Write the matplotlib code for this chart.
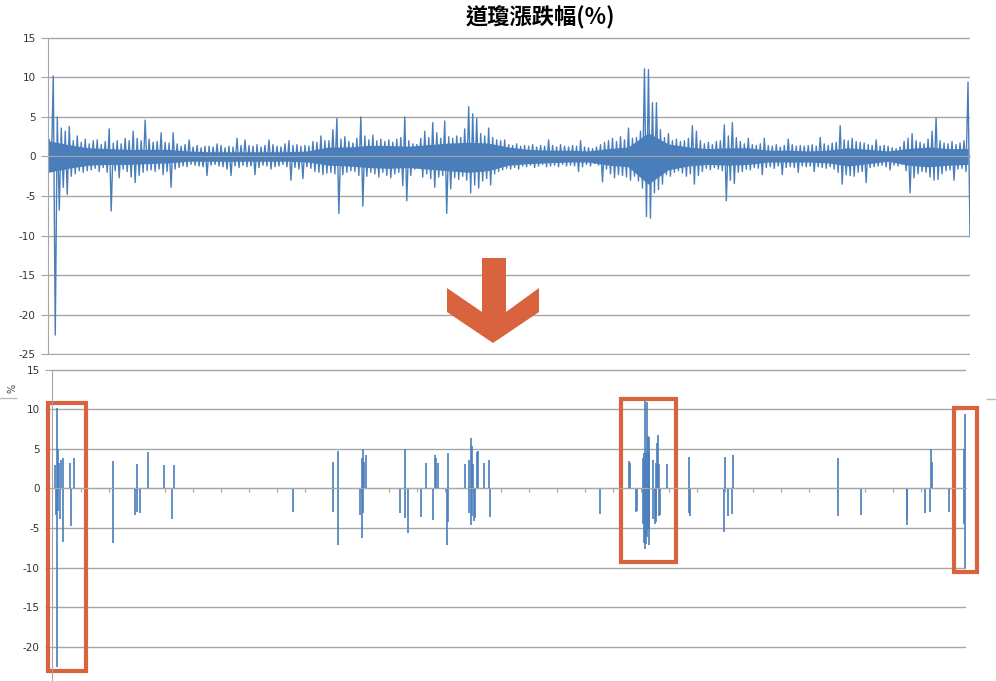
import numpy as np
import matplotlib.pyplot as plt
from matplotlib.patches import Polygon, Rectangle
from matplotlib.lines import Line2D

plt.rcParams['axes.unicode_minus'] = False

title = '道瓊漲跌幅(%)'
y_ticks = [15, 10, 5, 0, -5, -10, -15, -20, -25]
start, end = 1987.62, 2020.20   # first and last trading day (decimal year)

# daily % change, read as high / low per small slice of time (top chart)
day_hi = [
    2.1, 10.2, 5.0, 3.6, 3.2, 3.8, 2.0, 2.6, 1.8, 2.2,
    1.6, 2.0, 2.1, 1.5, 1.9, 3.5, 1.7, 2.0, 1.6, 2.3,
    2.0, 3.2, 2.3, 2.0, 4.6, 2.2, 1.8, 1.9, 3.0, 1.8,
    1.7, 3.0, 1.6, 1.3, 1.5, 2.1, 1.2, 1.4, 1.1, 1.3,
    1.3, 1.2, 1.6, 1.4, 1.1, 1.3, 1.2, 2.3, 1.4, 2.1,
    1.4, 1.3, 1.5, 1.2, 1.4, 2.1, 1.5, 1.3, 1.2, 1.6,
    2.0, 1.4, 1.5, 1.3, 1.4, 1.3, 1.9, 1.8, 2.6, 2.0,
    2.0, 3.4, 4.8, 2.2, 2.5, 1.9, 1.7, 2.3, 5.0, 2.6,
    2.1, 2.7, 2.0, 2.2, 1.9, 2.1, 1.8, 2.2, 2.4, 5.0,
    2.0, 1.6, 1.5, 2.3, 3.2, 2.4, 4.3, 3.0, 2.3, 4.5,
    2.5, 2.3, 2.6, 2.4, 3.5, 6.3, 5.4, 4.8, 2.9, 2.6,
    3.6, 2.4, 2.1, 2.0, 2.1, 1.5, 1.4, 1.6, 1.3, 1.4,
    1.3, 1.5, 1.2, 1.4, 1.3, 2.1, 1.4, 1.2, 1.5, 1.3,
    1.2, 1.4, 1.3, 2.0, 1.2, 1.1, 1.0, 1.2, 1.5, 1.8,
    2.0, 2.3, 1.9, 2.5, 2.1, 3.6, 2.3, 2.4, 3.2, 11.1,
    11.0, 6.8, 6.8, 3.4, 2.4, 2.9, 2.0, 2.2, 1.9, 2.0,
    2.3, 3.9, 3.2, 2.0, 1.6, 1.8, 1.5, 1.9, 2.0, 4.0,
    2.6, 4.3, 2.4, 1.9, 1.6, 2.3, 1.5, 1.4, 1.6, 2.3,
    1.4, 1.3, 1.5, 1.2, 1.4, 2.2, 1.5, 1.3, 1.4, 1.3,
    1.4, 1.5, 1.3, 2.4, 1.6, 1.4, 1.7, 1.8, 3.9, 2.1,
    2.0, 2.3, 1.9, 1.8, 1.7, 1.5, 1.4, 2.1, 1.3, 1.4,
    1.3, 1.1, 1.0, 1.2, 1.9, 2.3, 2.9, 2.0, 1.8, 1.6,
    2.2, 3.2, 4.9, 2.0, 1.7, 1.6, 1.9, 1.5, 1.7, 2.0,
    9.4]
day_lo = [
    -1.9, -22.6, -6.8, -3.9, -4.8, -2.5, -2.2, -1.8, -2.0, -1.8,
    -1.7, -1.5, -1.9, -1.4, -2.0, -6.9, -1.8, -2.7, -1.6, -1.9,
    -2.6, -3.3, -2.4, -2.0, -1.8, -1.7, -1.9, -1.6, -2.3, -1.9,
    -3.9, -1.6, -1.4, -1.2, -1.3, -1.0, -1.1, -1.2, -1.3, -2.4,
    -1.1, -1.0, -1.2, -1.3, -1.6, -2.4, -1.2, -1.4, -1.1, -1.3,
    -1.2, -2.3, -1.4, -1.1, -1.2, -1.6, -1.3, -1.2, -1.0, -1.3,
    -3.0, -1.4, -1.6, -2.8, -1.3, -1.5, -1.9, -2.0, -2.3, -2.1,
    -2.0, -2.2, -7.2, -2.3, -2.0, -1.8, -1.9, -2.4, -6.3, -2.5,
    -2.0, -2.2, -2.6, -2.0, -2.4, -2.7, -2.2, -2.0, -3.7, -5.6,
    -2.4, -1.6, -1.3, -2.6, -2.2, -2.8, -3.9, -2.6, -2.4, -7.2,
    -4.1, -2.7, -2.9, -2.5, -3.0, -4.6, -3.6, -4.0, -3.1, -2.8,
    -3.6, -2.2, -1.9, -1.7, -1.5, -1.6, -1.4, -1.6, -1.2, -1.3,
    -1.1, -1.4, -1.2, -1.0, -1.3, -1.2, -1.1, -1.3, -1.0, -1.2,
    -1.1, -1.2, -1.9, -1.3, -1.0, -1.2, -0.9, -1.1, -3.2, -1.6,
    -2.2, -2.7, -2.3, -2.4, -2.6, -3.0, -2.5, -3.1, -4.0, -7.6,
    -7.8, -4.6, -4.2, -3.5, -2.3, -2.5, -2.0, -1.8, -2.1, -2.5,
    -2.2, -3.5, -2.4, -1.9, -1.5, -1.7, -1.4, -1.6, -1.8, -5.6,
    -3.0, -3.4, -2.0, -1.9, -1.6, -1.7, -1.4, -1.5, -2.3, -1.4,
    -1.3, -1.5, -1.2, -2.3, -1.4, -1.3, -1.4, -2.0, -1.2, -1.3,
    -1.2, -1.9, -1.3, -1.4, -1.5, -1.3, -1.6, -2.0, -3.5, -2.3,
    -2.4, -2.5, -2.0, -1.9, -3.3, -1.4, -1.3, -1.2, -1.1, -1.3,
    -1.7, -1.1, -1.2, -1.0, -1.8, -4.6, -2.7, -2.2, -1.9, -2.0,
    -2.6, -3.0, -2.9, -2.2, -1.8, -1.7, -3.0, -1.6, -1.5, -1.9,
    -10.0]

# the dense, solid part of the band (coarser steps)
core_hi = [2.0, 1.5, 1.1, 1.0, 0.9, 0.9, 0.9, 0.7, 0.6, 0.6,
           0.6, 0.6, 0.6, 0.7, 1.2, 1.2, 1.4, 1.4, 1.3, 1.5,
           1.7, 1.8, 1.7, 1.2, 0.9, 0.8, 0.8, 0.7, 1.0, 1.2,
           3.0, 1.6, 1.2, 1.0, 1.1, 1.1, 0.8, 0.8, 0.7, 0.8,
           1.1, 0.9, 0.7, 1.0, 1.2, 1.0, 1.0]
core_lo = [-2.0, -1.5, -1.1, -1.0, -1.0, -0.9, -0.8, -0.6, -0.6, -0.6,
           -0.6, -0.6, -0.6, -0.7, -1.1, -1.2, -1.4, -1.5, -1.4, -1.6,
           -1.8, -2.0, -1.8, -1.1, -0.9, -0.8, -0.7, -0.7, -1.1, -1.3,
           -3.5, -1.7, -1.2, -1.0, -1.1, -1.0, -0.7, -0.7, -0.7, -0.8,
           -1.2, -0.9, -0.6, -1.1, -1.3, -1.1, -1.0]

# big moves only (|change| > ~3%), bottom chart
spike_year = [
    1987.73, 1987.76, 1987.80, 1987.80, 1987.82, 1987.82, 1987.87, 1987.91,
    1987.94, 1988.01, 1988.01, 1988.26, 1988.30, 1988.41,
    1989.78, 1989.80, 1990.58, 1990.66, 1990.66, 1990.76,
    1991.05, 1991.62, 1991.88, 1991.98, 1996.21,
    1997.63, 1997.66, 1997.81, 1997.81,
    1998.61, 1998.67, 1998.67, 1998.71, 1998.71, 1998.74, 1998.82,
    2000.03, 2000.21, 2000.21, 2000.31, 2000.79, 2000.96,
    2001.21, 2001.28, 2001.32, 2001.38, 2001.71, 2001.74, 2001.74,
    2002.36, 2002.51, 2002.51, 2002.56, 2002.56, 2002.60, 2002.60, 2002.63,
    2002.68, 2002.73, 2002.78, 2002.82,
    2003.04, 2003.21, 2003.25, 2007.18,
    2008.22, 2008.25, 2008.47, 2008.50,
    2008.73, 2008.73, 2008.76, 2008.76, 2008.79, 2008.79, 2008.82, 2008.82,
    2008.85, 2008.85, 2008.88, 2008.88, 2008.92, 2008.92, 2008.94, 2008.94,
    2009.07, 2009.07, 2009.13, 2009.17, 2009.19, 2009.19, 2009.22, 2009.25,
    2009.28, 2009.28, 2009.31, 2009.57,
    2010.35, 2010.35, 2010.38,
    2011.62, 2011.65, 2011.75, 2011.91, 2011.93,
    2015.67, 2015.69, 2016.51,
    2018.13, 2018.16, 2018.80, 2018.98, 2019.01, 2019.05, 2019.66,
    2020.19, 2020.19, 2020.23, 2020.23]
spike_val = [
    3.0, -3.4, 10.2, -22.6, 5.0, -2.9, 3.2, -3.9,
    3.6, 3.9, -6.8, 3.2, -4.8, 3.8,
    -6.9, 3.5, -3.3, 3.1, -3.0, -3.1,
    4.6, 3.0, -3.9, 3.0, -3.0,
    -3.0, 3.4, -7.1, 4.8,
    -3.4, -6.3, 3.8, 5.0, -3.1, 3.3, 4.2,
    -3.1, 5.0, -3.7, -5.6, -3.6, 3.2,
    -4.0, 4.2, 3.9, 3.2, -7.1, 4.5, -4.3,
    3.1, 3.6, -3.1, 6.4, -4.6, 5.4, -3.5, 3.1,
    -4.1, -3.7, 4.6, 4.8,
    3.2, 3.6, -3.6, -3.2,
    3.5, 3.2, -3.0, -2.9,
    -4.5, 3.8, -6.9, 4.5, 11.1, -7.7, 4.5, -7.0,
    10.9, -6.1, 6.6, -5.3, 6.5, -7.1, 4.5, -5.0,
    3.6, -3.9, -4.5, -4.2, 3.2, -3.5, 5.8, 6.8,
    3.1, -3.5, -3.4, 3.1,
    4.0, -3.1, -3.5,
    -5.5, 4.0, -3.5, -3.2, 4.3,
    -3.5, 3.9, -3.3,
    -4.6, -3.9, -3.1, -3.0, 5.0, 3.3, -3.0,
    5.0, -4.5, 9.4, -10.0]

blue = '#4A7EBB'
red = '#D9623F'
grid = '#A6A6A6'
W, H = 996, 681

fig = plt.figure(figsize=(W / 100, H / 100), dpi=100)


def style(ax, xmax, ticks):
    ax.set_xlim(start, xmax)
    ax.set_ylim(-25.1, 15.1)
    ax.set_yticks(ticks)
    ax.grid(axis='y', color=grid, lw=1)
    ax.set_axisbelow(True)
    for s in ['top', 'right']:
        ax.spines[s].set_visible(False)
    ax.spines['left'].set_color(grid)
    ax.spines['left'].set_bounds(-25, 15)
    ax.spines['bottom'].set_position(('data', 0))
    ax.spines['bottom'].set_color(grid)
    ax.set_xticks(np.arange(1988.63, xmax, 1.0))
    ax.tick_params(axis='x', length=3, color=grid, labelbottom=False)
    ax.tick_params(axis='y', length=5, color=grid, labelsize=7.5, pad=4,
                   labelcolor='#333333')


# top chart : every day
ax1 = fig.add_axes([48.3 / W, 1 - 354.8 / H, 921.7 / W, 317.6 / H])
style(ax1, end, y_ticks)
n = len(day_hi)
centers = np.linspace(start + 0.07, end - 0.035, n)
d = 0.035
core_x = np.linspace(start, end - 0.07, len(core_hi))
ax1.fill_between(core_x, core_lo, core_hi, color=blue, lw=0)
xs = np.column_stack([centers - d, centers + d]).ravel()
ys = np.column_stack([day_hi, day_lo]).ravel()
ax1.plot(xs, ys, color=blue, lw=1.0)

# bottom chart : only the big days (its -25 row falls below the picture)
ax2 = fig.add_axes([52.3 / W, 1 - 686.8 / H, 913.4 / W, 317.6 / H])
style(ax2, 2020.24, y_ticks[:-1])
ax2.vlines(spike_year, 0, spike_val, color=blue, lw=1.2)

# red frames round the crashes
for x0, x1, y0, y1 in [(1987.46, 1988.82, -23.08, 10.76),
                       (2007.94, 2009.91, -9.28, 11.27),
                       (2019.82, 2020.65, -10.54, 10.13)]:
    ax2.add_patch(Rectangle((x0, y0), x1 - x0, y1 - y0, fill=False,
                            ec=red, lw=3, clip_on=False))

fig.text(540 / W, 1 - 17 / H, title, ha='center', va='center', fontsize=16,
         fontweight='bold', family=['Noto Sans CJK TC', 'DejaVu Sans'])

# big arrow between the two charts
arrow_px = [(482, 258), (506, 258), (506, 312), (539, 288), (539, 312),
            (493, 343), (447, 312), (447, 288), (482, 312)]
fig.add_artist(Polygon([(x / W, 1 - y / H) for x, y in arrow_px],
                       closed=True, fc=red, ec='none',
                       transform=fig.transFigure))

fig.text(13 / W, 1 - 388 / H, '%', rotation=90, fontsize=7,
         color='#404040', ha='center', va='center')
fig.add_artist(Line2D([0, 16 / W], [1 - 398 / H] * 2, color='#BBBBBB', lw=1,
                      transform=fig.transFigure))
fig.add_artist(Line2D([987 / W, 1], [1 - 399 / H] * 2, color='#BBBBBB', lw=1,
                      transform=fig.transFigure))

fig.savefig('out.png', dpi=100)
